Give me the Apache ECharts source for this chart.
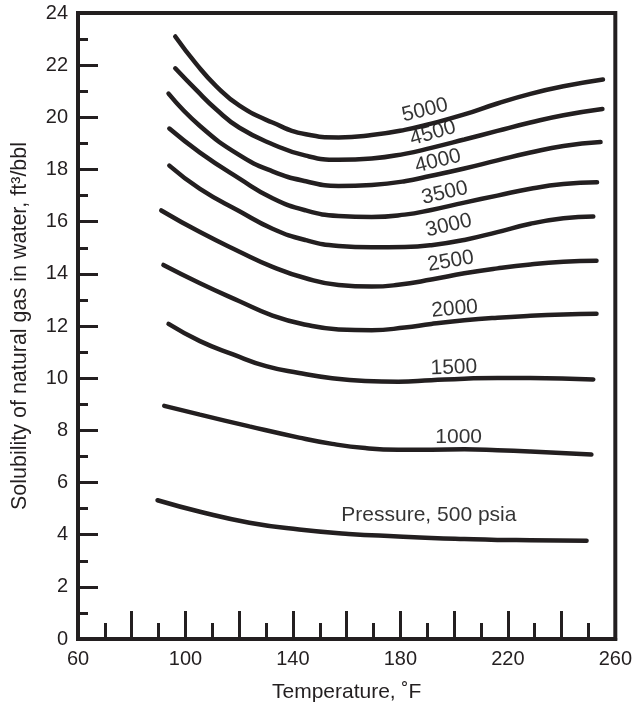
<!DOCTYPE html>
<html>
<head>
<meta charset="utf-8">
<script src="https://cdn.jsdelivr.net/npm/echarts@6/dist/echarts.min.js"></script>
<style>
html,body{margin:0;padding:0;background:#fff;}
#chart{width:635px;height:708px;}
</style>
</head>
<body>
<div id="chart"></div>
<script>
// ---- Data (temperature °F, solubility ft3/bbl) ----
var pressures = ['5000','4500','4000','3500','3000','2500','2000','1500','1000','500'];

var p5000 = [[96.2,23.1],[104,22.05],[111.5,21.19],[120.1,20.45],[132.4,19.8],[144.8,19.35],[157,19.23],[169.3,19.32],[181.6,19.52],[191.5,19.76],[203.8,20.11],[216.1,20.53],[228.4,20.9],[240.7,21.19],[255.4,21.45]];
var p4500 = [[96.2,21.88],[104,21.05],[111.5,20.3],[120.1,19.6],[132.4,18.97],[144.8,18.53],[157,18.37],[169.3,18.42],[181.6,18.6],[191.5,18.83],[203.8,19.15],[216.1,19.48],[228.4,19.8],[240.7,20.08],[255.2,20.32]];
var p4000 = [[93.7,20.91],[105.4,19.67],[120.1,18.55],[132.4,17.93],[144.8,17.55],[157,17.37],[169.3,17.41],[181.6,17.55],[191.5,17.76],[203.8,18.04],[216.1,18.35],[228.4,18.65],[240.7,18.9],[254.5,19.05]];
var p3500 = [[94,19.57],[105.4,18.65],[120.1,17.65],[132.4,16.9],[144.8,16.43],[157,16.22],[169.3,16.18],[181.6,16.27],[191.5,16.45],[203.8,16.73],[216.1,17.0],[228.4,17.26],[240.7,17.44],[253.2,17.51]];
var p3000 = [[94,18.15],[105.4,17.26],[120.1,16.4],[132.4,15.73],[144.8,15.29],[157,15.07],[169.3,15.02],[181.6,15.03],[191.5,15.1],[203.8,15.3],[216.1,15.6],[228.4,15.92],[240.7,16.13],[251.8,16.2]];
var p2500 = [[91,16.43],[105.4,15.6],[120.1,14.85],[132.4,14.27],[144.8,13.83],[157,13.57],[169.3,13.51],[179.2,13.58],[191.5,13.78],[203.8,14.02],[216.1,14.21],[228.4,14.36],[240.7,14.46],[253,14.5]];
var p2000 = [[91.8,14.34],[105.4,13.64],[120.1,12.95],[132.4,12.4],[144.8,12.05],[157,11.87],[169.3,11.84],[181.6,11.94],[191.5,12.08],[203.8,12.22],[216.1,12.32],[228.4,12.39],[240.7,12.44],[253,12.47]];
var p1500 = [[93.7,12.08],[105.4,11.42],[117.7,10.91],[130,10.46],[142.3,10.2],[154.6,10.0],[166.9,9.89],[179.2,9.86],[191.5,9.92],[203.8,9.98],[216.1,10.01],[228.4,10.01],[251.8,9.95]];
var p1000 = [[92.1,8.94],[105.4,8.6],[123.8,8.15],[142.3,7.72],[154.6,7.48],[166.9,7.32],[179.2,7.26],[191.5,7.26],[203.8,7.27],[216.1,7.24],[228.4,7.19],[251.1,7.07]];
var p500  = [[89.6,5.32],[105.4,4.88],[123.8,4.46],[142.3,4.2],[160.7,4.03],[179.2,3.93],[191.5,3.87],[203.8,3.83],[216.1,3.8],[228.4,3.79],[249.3,3.77]];

var curves = [p5000,p4500,p4000,p3500,p3000,p2500,p2000,p1500,p1000,p500];

// Curve label texts and their anchor points (data units)
var labelTexts = ['5000','4500','4000','3500','3000','2500','2000','1500','1000','Pressure, 500 psia'];
var labelAt = [[189.2,20.27],[192.1,19.39],[194,18.32],[196.5,17.1],[198,15.85],[198.7,14.48],[200.2,12.65],[199.9,10.4],[201.7,7.73],[190.6,4.76]];

var xTicks = [60,100,140,180,220,260];

// ---- Styling ----
var INK = '#231f20';
var FONT = '"Liberation Sans", Arial, sans-serif';
var labelRotate = [14,16,14,13,13,10,5,2,0,0];

var series = curves.map(function (c, i) {
  return {
    type: 'line',
    name: pressures[i],
    data: c,
    smooth: 0.5,
    showSymbol: false,
    symbol: 'none',
    silent: true,
    lineStyle: { color: INK, width: 4.5, cap: 'round' }
  };
});

series.push({
  type: 'scatter',
  symbolSize: 0,
  silent: true,
  itemStyle: { color: 'transparent' },
  data: labelAt.map(function (p, i) {
    return {
      value: p,
      name: labelTexts[i],
      label: { rotate: labelRotate[i] }
    };
  }),
  label: {
    show: true,
    position: 'inside',
    formatter: function (p) { return p.name; },
    fontSize: 21,
    fontFamily: FONT,
    color: '#000',
    textBorderWidth: 0,
    textBorderColor: 'transparent'
  }
});

var chart = echarts.init(document.getElementById('chart'), null, { renderer: 'canvas' });
chart.setOption({
  animation: false,
  backgroundColor: '#fff',
  grid: {
    left: 78, right: 16, top: 13, bottom: 65,
    show: true, borderColor: INK, borderWidth: 4, backgroundColor: 'transparent'
  },
  xAxis: {
    type: 'value', min: 60, max: 260, interval: 20,
    name: 'Temperature, ˚F', nameLocation: 'middle', nameGap: 43,
    nameTextStyle: { fontSize: 21, fontFamily: FONT, color: INK },
    axisLine: { show: true, lineStyle: { color: INK, width: 4 } },
    axisTick: { show: true, inside: true, length: 28, lineStyle: { color: INK, width: 3 } },
    minorTick: { show: true, splitNumber: 2, length: 16, lineStyle: { color: INK, width: 3 } },
    splitLine: { show: false },
    axisLabel: {
      fontSize: 20, fontFamily: FONT, color: INK, margin: 10,
      formatter: function (v) { return xTicks.indexOf(v) >= 0 ? String(v) : ''; }
    }
  },
  yAxis: {
    type: 'value', min: 0, max: 24, interval: 2,
    name: 'Solubility of natural gas in water, ft³/bbl', nameLocation: 'middle', nameGap: 47,
    nameTextStyle: { fontSize: 21.5, fontFamily: FONT, color: INK },
    axisLine: { show: true, lineStyle: { color: INK, width: 4 } },
    axisTick: { show: true, inside: true, length: 20, lineStyle: { color: INK, width: 3 } },
    minorTick: { show: true, splitNumber: 2, length: 10, lineStyle: { color: INK, width: 3 } },
    splitLine: { show: false },
    axisLabel: { fontSize: 20, fontFamily: FONT, color: INK, margin: 10 }
  },
  series: series
});
</script>
</body>
</html>
